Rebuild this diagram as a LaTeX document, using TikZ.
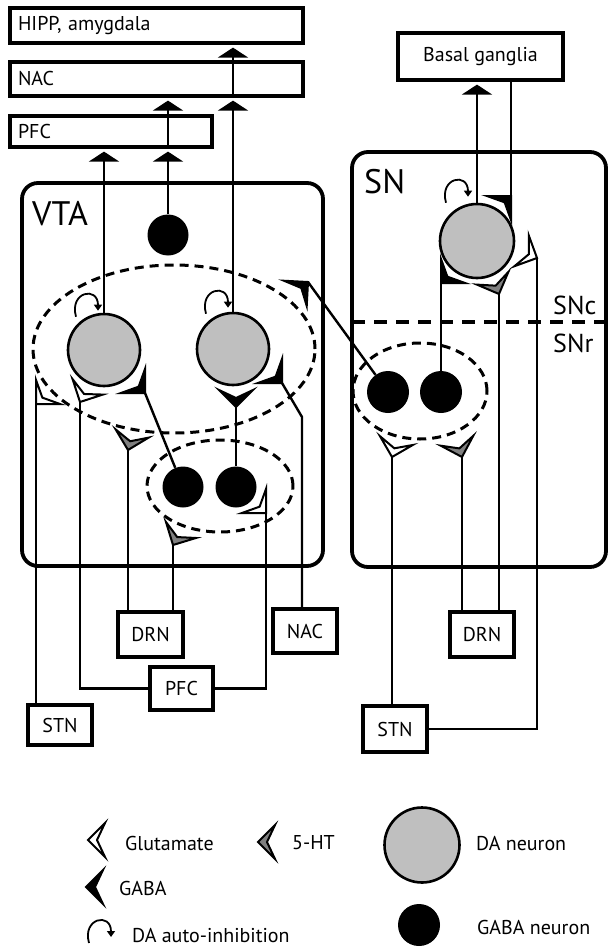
\documentclass[tikz,border=0pt]{standalone}
\usepackage{fontspec}
\setmainfont{PT Sans}
\usetikzlibrary{arrows.meta}

\begin{document}
\begin{tikzpicture}[x=1pt, y=-1pt,
  region/.style={draw, line width=3.8pt, rounded corners=16pt},
  tbox/.style={draw, line width=3.2pt, inner xsep=8pt, inner ysep=0pt, font=\fontsize{20}{24}\selectfont},
  danrn/.style={circle, draw, line width=2.6pt, fill=black!25, minimum size=72pt, inner sep=0pt},
  gabnrn/.style={circle, fill=black, minimum size=41pt, inner sep=0pt},
  ax/.style={line width=2.4pt},
  proj/.style={line width=2.4pt, -{Triangle[width=30pt,length=10pt]}, shorten >=3pt},
  pool/.style={line width=3pt, dash pattern=on 9pt off 6pt},
  lbl/.style={font=\fontsize{20}{24}\selectfont, inner sep=0pt},
  pics/syn/.style={code={\filldraw[fill=#1, line width=2pt, line join=miter]
      (0,0) -- (17,17) -- (9,0) -- (17,-17) -- cycle;}},
  pics/autoinh/.style={code={\draw[line width=1.8pt, -{Triangle[width=8pt,length=6pt]}]
      (-22,6) .. controls (-29,-19) and (0,-25) .. (0,0);}}
]
  \useasboundingbox (0,0) rectangle (610,947);

  % target areas on top
  \node[tbox, text width=277pt, minimum height=35pt, align=left] (hipp) at (156.5,25.5) {HIPP, amygdala};
  \node[tbox, text width=277pt, minimum height=34pt, align=left] (nacT) at (156.5,79) {NAC};
  \node[tbox, text width=186pt, minimum height=31pt, align=left] (pfcT) at (111,131.5) {PFC};
  \node[tbox, minimum width=165pt, minimum height=47pt] (bg) at (480.5,56.5) {Basal ganglia};

  % VTA and SN
  \draw[region] (22,183) rectangle (323,566);
  \draw[region] (352,152) rectangle (606,567);
  \node[font=\fontsize{34}{40}\selectfont, anchor=base west, inner sep=0pt] (vtaLbl) at (32,225) {VTA};
  \node[font=\fontsize{34}{40}\selectfont, anchor=base west, inner sep=0pt] (snLbl) at (364,193) {SN};
  \draw[line width=3.4pt, dash pattern=on 13pt off 9pt] (352,322) -- (606,322);
  \node[font=\fontsize{26}{30}\selectfont, anchor=base west, inner sep=0pt] (sncLbl) at (553,314) {SNc};
  \node[font=\fontsize{26}{30}\selectfont, anchor=base west, inner sep=0pt] (snrLbl) at (553,352) {SNr};

  % input areas below
  \node[tbox, minimum width=65pt, minimum height=45pt] (drnV) at (150.5,634.5) {DRN};
  \node[tbox, minimum width=64pt, minimum height=44pt] (nacB) at (305,631) {NAC};
  \node[tbox, minimum width=63pt, minimum height=43pt] (pfcB) at (181.5,688.5) {PFC};
  \node[tbox, minimum width=64pt, minimum height=40pt] (stnV) at (60,725) {STN};
  \node[tbox, minimum width=64pt, minimum height=45pt] (drnS) at (482,634.5) {DRN};
  \node[tbox, minimum width=64pt, minimum height=46pt] (stnS) at (395,729) {STN};

  % neuron pools
  \draw[pool] (174,349) ellipse [x radius=141pt, y radius=84pt];
  \draw[pool] (220,486) ellipse [x radius=73pt, y radius=46pt];
  \draw[pool] (420,391) ellipse [x radius=67pt, y radius=48pt];

  % neurons
  \node[gabnrn] (gV) at (168,235) {};
  \node[danrn] (da1) at (104,350) {};
  \node[danrn] (da2) at (233,349) {};
  \node[gabnrn] (g1) at (183,487) {};
  \node[gabnrn] (g2) at (236,487) {};
  \node[danrn, minimum size=74pt] (daS) at (477,241) {};
  \node[gabnrn, minimum size=42pt] (gS1) at (388,392) {};
  \node[gabnrn, minimum size=42pt] (gS2) at (441,392) {};

  % synapse tips
  \coordinate (tStnV) at (36,404);
  \coordinate (tPfcDa) at (80,402);
  \coordinate (tG1Da) at (145,393);
  \coordinate (tDrnDa) at (128,450);
  \coordinate (tDrnG1) at (173,545);
  \coordinate (tPfcG2) at (266,513);
  \coordinate (tNacDa) at (282,383);
  \coordinate (kNac) at (302,417);
  \coordinate (tG2Da) at (236,407);
  \coordinate (tSnVta) at (308,282);
  \coordinate (tBgDa) at (511,196);
  \coordinate (tStnDa) at (537,258);
  \coordinate (tDrnDaS) at (499,294);
  \coordinate (tGS2Da) at (441,283);
  \coordinate (tStnGS1) at (392,457);
  \coordinate (tDrnGS2) at (462,457);

  % afferents
  \draw[ax] (stnV.north -| tStnV) -- (tStnV);
  \draw[ax] (pfcB.west) -| (tPfcDa);
  \draw[ax] (pfcB.east) -| (tPfcG2);
  \draw[ax] (drnV.north -| tDrnDa) -- (tDrnDa);
  \draw[ax] (drnV.north -| tDrnG1) -- (tDrnG1);
  \draw[ax] (nacB.north -| kNac) -- (kNac) -- (tNacDa);
  \draw[ax] (g1) -- (tG1Da);
  \draw[ax] (g2) -- (tG2Da);
  \draw[ax] (gS1) -- (tSnVta);
  \draw[ax] (gS2) -- (tGS2Da);
  \draw[ax] (bg.south -| tBgDa) -- (tBgDa);
  \draw[ax] (stnS.north -| tStnGS1) -- (tStnGS1);
  \draw[ax] (stnS.east) -| (tStnDa);
  \draw[ax] (drnS.north -| tDrnDaS) -- (tDrnDaS);
  \draw[ax] (drnS.north -| tDrnGS2) -- (tDrnGS2);

  % projections
  \draw[proj] (da1) -- (da1 |- pfcT.south);
  \draw[proj] (gV) -- (gV |- pfcT.south);
  \draw[proj] (gV |- pfcT.south) -- (gV |- nacT.south);
  \draw[proj] (da2) -- (da2 |- nacT.south);
  \draw[proj] (da2 |- nacT.south) -- (da2 |- hipp.south);
  \draw[proj] (daS) -- (daS |- bg.south);

  % synapses
  \pic[rotate=45] at (tStnV) {syn=white};
  \pic[rotate=63] at (tPfcDa) {syn=white};
  \pic[rotate=135] at (tG1Da) {syn=black};
  \pic[rotate=76] at (tDrnDa) {syn=black!50};
  \pic[rotate=62] at (tDrnG1) {syn=black!50};
  \pic[rotate=135] at (tPfcG2) {syn=white};
  \pic[rotate=135] at (tNacDa) {syn=black};
  \pic[rotate=90] at (tG2Da) {syn=black};
  \pic[rotate=222] at (tSnVta) {syn=black};
  \pic[rotate=225] at (tBgDa) {syn=black};
  \pic[rotate=155] at (tStnDa) {syn=white};
  \pic[rotate=112] at (tDrnDaS) {syn=black!50};
  \pic[rotate=45] at (tGS2Da) {syn=black};
  \pic[rotate=75] at (tStnGS1) {syn=white};
  \pic[rotate=107] at (tDrnGS2) {syn=black!50};

  % auto-inhibition
  \pic at ([xshift=-6pt,yshift=2pt]da1.north) {autoinh};
  \pic at ([xshift=-5pt,yshift=4pt]da2.north) {autoinh};
  \pic at ([xshift=-9pt,yshift=6pt]daS.north) {autoinh};

  % legend
  \pic at (88,840) {syn=white};
  \node[lbl, anchor=west] (lGlu) at (125,843) {Glutamate};
  \pic at (258,842) {syn=black!50};
  \node[lbl, anchor=west] (lHt) at (292,843) {5-HT};
  \pic at (86,887) {syn=black};
  \node[lbl, anchor=west] (lGaba) at (119,888) {GABA};
  \pic at (111,937) {autoinh};
  \node[lbl, anchor=west] (lAuto) at (132,935) {DA auto-inhibition};
  \node[danrn, minimum size=75pt] (kDa) at (422,845) {};
  \node[lbl, anchor=west] (lDa) at (476,843) {DA neuron};
  \node[gabnrn, minimum size=42pt] (kGaba) at (419,925) {};
  \node[lbl, anchor=west] (lGabaN) at (477,927) {GABA neuron};
\end{tikzpicture}
\end{document}
